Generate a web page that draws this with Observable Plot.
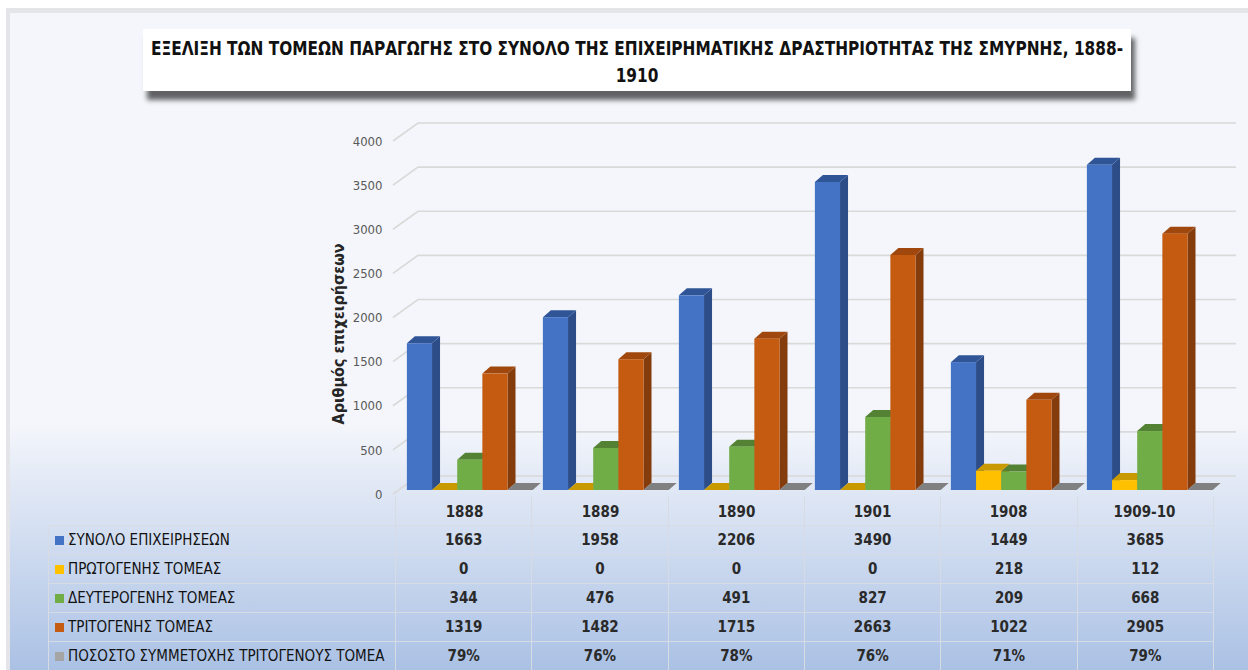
<!DOCTYPE html>
<html><head><meta charset="utf-8">
<script src="https://cdn.jsdelivr.net/npm/d3@7"></script>
<script src="https://cdn.jsdelivr.net/npm/@observablehq/plot@0.6"></script>
<style>
body{margin:0;background:#fff;}
#wrap{position:relative;width:1248px;height:670px;overflow:hidden;font-family:"DejaVu Sans Condensed","DejaVu Sans",sans-serif;font-stretch:condensed;}
#frame{position:absolute;left:6px;top:8px;width:1250px;height:680px;border-left:4px solid #e3e5e9;border-top:5px solid #e3e5e9;background:linear-gradient(to bottom,#f4f6fb 0px,#f4f6fb 410px,#a9c0e4 662px);}
#title{position:absolute;left:143px;top:29px;width:988px;height:62px;background:#fff;box-shadow:4px 9px 5px rgba(0,0,0,0.6);font-weight:bold;font-size:19px;color:#111;}
#title span{position:absolute;left:50%;white-space:nowrap;line-height:28px;}
#chart{position:absolute;left:0;top:0;}
#tbl{position:absolute;left:48px;top:497px;border-collapse:collapse;table-layout:fixed;}
#tbl td{border:1.5px solid #d6dbe4;padding:0;height:28px;text-align:center;font-size:15px;font-weight:bold;color:#2a2a2a;white-space:nowrap;}
#tbl td.lab{text-align:left;padding-left:6px;font-weight:normal;color:#111;}
#tbl tr.hd td{border-top:none;}
#tbl tr.hd td.blank{border:none;}
.sw{display:inline-block;width:9px;height:9px;margin-right:4px;vertical-align:0px;}
</style></head>
<body><div id="wrap"><div id="frame"></div><div id="title"><span id="t1"></span><span id="t2"></span></div><div id="chart"></div><table id="tbl"></table></div>
<script>
const titleText = "ΕΞΕΛΙΞΗ ΤΩΝ ΤΟΜΕΩΝ ΠΑΡΑΓΩΓΗΣ ΣΤΟ ΣΥΝΟΛΟ ΤΗΣ ΕΠΙΧΕΙΡΗΜΑΤΙΚΗΣ ΔΡΑΣΤΗΡΙΟΤΗΤΑΣ ΤΗΣ ΣΜΥΡΝΗΣ, 1888-";
const titleText2 = "1910";
const yLabel = "Αριθμός επιχειρήσεων";
const years = ["1888", "1889", "1890", "1901", "1908", "1909-10"];
const seriesNames = ["ΣΥΝΟΛΟ ΕΠΙΧΕΙΡΗΣΕΩΝ", "ΠΡΩΤΟΓΕΝΗΣ ΤΟΜΕΑΣ", "ΔΕΥΤΕΡΟΓΕΝΗΣ ΤΟΜΕΑΣ", "ΤΡΙΤΟΓΕΝΗΣ ΤΟΜΕΑΣ", "ΠΟΣΟΣΤΟ ΣΥΜΜΕΤΟΧΗΣ ΤΡΙΤΟΓΕΝΟΥΣ ΤΟΜΕΑ"];
const total = [1663, 1958, 2206, 3490, 1449, 3685];
const primary = [0, 0, 0, 0, 218, 112];
const secondary = [344, 476, 491, 827, 209, 668];
const tertiary = [1319, 1482, 1715, 2663, 1022, 2905];
const tertiaryShare = [0.79, 0.76, 0.78, 0.76, 0.71, 0.79];
const yTicks = [0, 500, 1000, 1500, 2000, 2500, 3000, 3500, 4000];
const frontColors = ["#4472c4", "#ffc000", "#70ad47", "#c55a11", "#a5a5a5"];
const sideColors = ["#2c4d88", "#b38600", "#4b7a2f", "#843c0c", "#6e6e6e"];
const topColors = ["#2f5597", "#c99a00", "#548235", "#a0470d", "#808080"];

const t1 = document.getElementById("t1"), t2 = document.getElementById("t2");
t1.textContent = titleText;
t2.textContent = titleText2;
const k = 972 / t1.getBoundingClientRect().width;
t1.style.top = "5px";
t2.style.top = "32px";
t1.style.transform = `translateX(-50%) scaleX(${k})`;
t2.style.transform = `translateX(-50%) scaleX(${k})`;

const seriesValues = [total, primary, secondary, tertiary, tertiaryShare];
const rows = [];
seriesValues.forEach((vals, s) => vals.forEach((v, i) => rows.push({year: years[i], series: s, value: v})));

// 3D bar + back-wall gridline renderer built on Plot's scales
function bars3d(index, scales) {
  const {x, y} = scales;
  const bw = x.bandwidth();
  const [x0, x1] = x.range();
  const g = d3.create("svg:g");
  const wdx = 23, wdy = -18, fdy = 4;
  for (const t of yTicks) {
    g.append("path")
      .attr("d", `M${x0 - 2},${y(t) + fdy}L${x0 + wdx},${y(t) + wdy + 4}H${x1 + wdx}`)
      .attr("fill", "none").attr("stroke", "#d9d9d9").attr("stroke-width", 1.6);
  }
  const w = bw * 0.185, off = bw * 0.08, dx = 8, dy = -7;
  for (const r of rows) {
    const bx = x(r.year) + off + r.series * w;
    const by0 = y(0), by1 = y(r.value);
    const s = r.series;
    g.append("path").attr("fill", sideColors[s])
      .attr("d", `M${bx + w},${by0}L${bx + w},${by1}L${bx + w + dx},${by1 + dy}L${bx + w + dx},${by0 + dy}Z`);
    g.append("path").attr("fill", topColors[s])
      .attr("d", `M${bx},${by1}L${bx + w},${by1}L${bx + w + dx},${by1 + dy}L${bx + dx},${by1 + dy}Z`);
    if (by0 - by1 > 0.5) g.append("rect").attr("fill", frontColors[s])
      .attr("x", bx).attr("y", by1).attr("width", w).attr("height", by0 - by1);
  }
  return g.node();
}

const plot = Plot.plot({
  width: 1248,
  height: 670,
  marginLeft: 395,
  marginRight: 35,
  marginTop: 137,
  marginBottom: 180,
  style: {background: "transparent", overflow: "visible", fontFamily: "'DejaVu Sans Condensed', 'DejaVu Sans', sans-serif", fontStretch: "condensed"},
  x: {type: "band", domain: years, padding: 0, label: null},
  y: {domain: [0, 4000], label: null},
  marks: [
    bars3d,
    Plot.axisY({ticks: yTicks, tickFormat: d => String(d), tickSize: 0, tickPadding: 13, dy: 4, fontSize: 13, color: "#595959", label: null}),
    Plot.axisX({tickSize: 0, tickPadding: 16, fontSize: 15, fontWeight: "bold", color: "#2a2a2a", label: null}),
    Plot.text([yLabel], {text: d => d, frameAnchor: "left", dx: -57, dy: 20, rotate: -90, textAnchor: "middle", fontSize: 16, fontWeight: "bold", fill: "#262626"})
  ]
});
document.getElementById("chart").appendChild(plot);

// data table below the chart
const tbl = d3.select("#tbl");
const colW = [347, ...years.map(() => 136.33)];
const cg = tbl.append("colgroup");
colW.forEach(w => cg.append("col").style("width", w + "px"));
const hd = tbl.append("tr").attr("class", "hd");
hd.append("td").attr("class", "blank");
years.forEach(() => hd.append("td"));
seriesNames.forEach((name, s) => {
  const tr = tbl.append("tr");
  const lab = tr.append("td").attr("class", "lab");
  lab.append("span").attr("class", "sw").style("background", frontColors[s]);
  lab.append("span").text(name);
  seriesValues[s].forEach(v => tr.append("td").text(s === 4 ? Math.round(v * 100) + "%" : v));
});
</script></body></html>
